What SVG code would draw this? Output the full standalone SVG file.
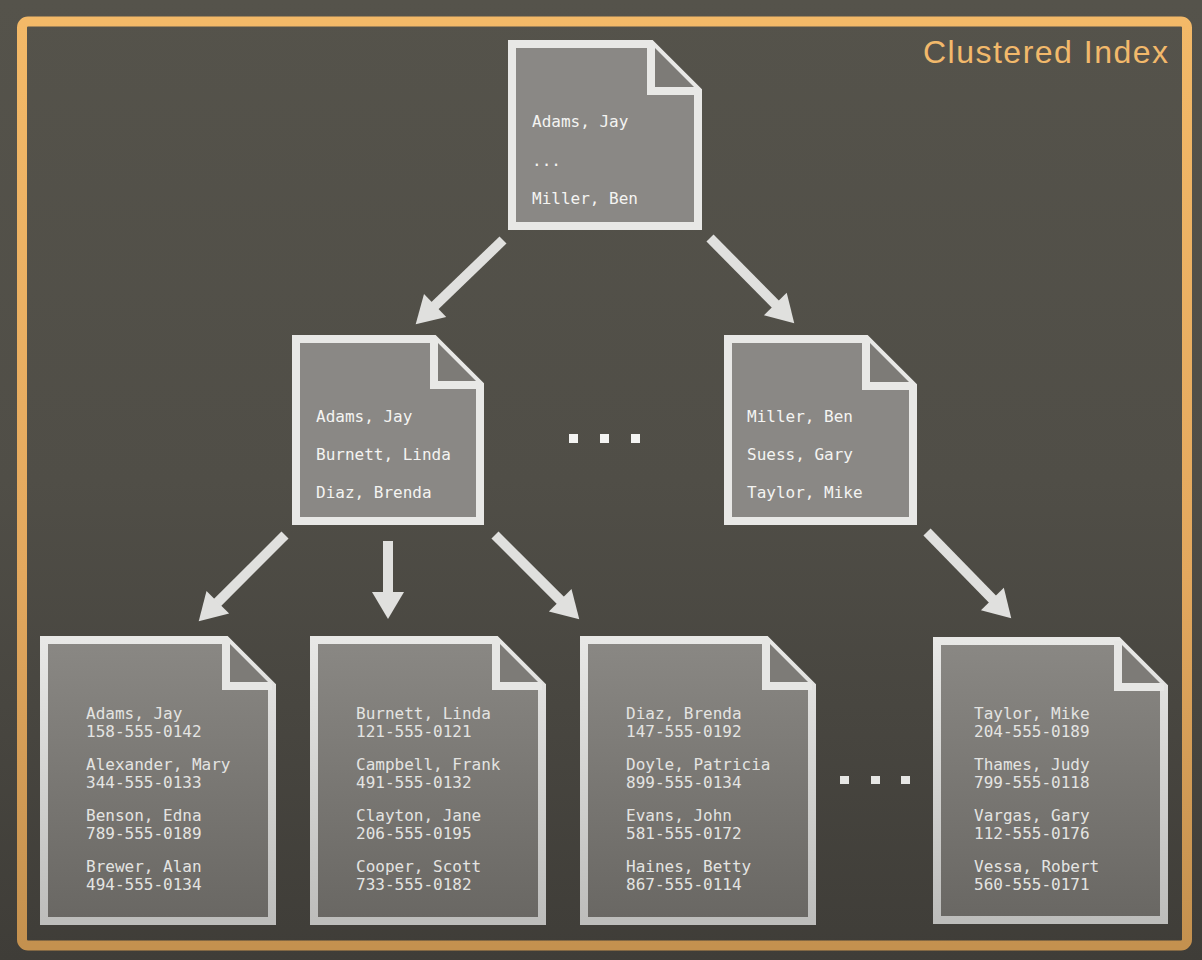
<svg xmlns="http://www.w3.org/2000/svg" width="1202" height="960" viewBox="0 0 1202 960">
<defs>
<linearGradient id="bg" x1="0" y1="0" x2="0" y2="1">
<stop offset="0" stop-color="#55534b"/>
<stop offset="0.5" stop-color="#504e47"/>
<stop offset="1" stop-color="#3f3d38"/>
</linearGradient>
<linearGradient id="frame" x1="0" y1="0" x2="0" y2="1">
<stop offset="0" stop-color="#f3b968"/>
<stop offset="0.6" stop-color="#e3a85e"/>
<stop offset="1" stop-color="#c4914f"/>
</linearGradient>
<linearGradient id="leafFill" x1="0" y1="0" x2="0" y2="1">
<stop offset="0" stop-color="#8a8884"/>
<stop offset="1" stop-color="#696763"/>
</linearGradient>
<linearGradient id="leafStroke" x1="0" y1="0" x2="0" y2="1">
<stop offset="0" stop-color="#e8e8e6"/>
<stop offset="1" stop-color="#bdbdbb"/>
</linearGradient>
<marker id="ah" markerUnits="userSpaceOnUse" markerWidth="28" markerHeight="32" viewBox="0 0 28 32" refX="1" refY="16" orient="auto" overflow="visible">
<path d="M0,0 L27,16 L0,32 Z" fill="#e0e0de"/>
</marker>
</defs>
<style>
.doc{fill:#8a8885;stroke:#e8e8e6;stroke-width:8;stroke-linejoin:miter}
.foldfill{fill:#7d7b77;stroke:none}
.fold{fill:none;stroke:#e8e8e6;stroke-width:8;stroke-linejoin:miter}
.leaf{fill:url(#leafFill);stroke:url(#leafStroke);stroke-width:8}
.lfold{fill:none;stroke:#e6e6e4;stroke-width:8}
.t{font-family:"DejaVu Sans Mono","Liberation Mono",monospace;font-size:16px;fill:#f4f4f2}
.lt{font-family:"DejaVu Sans Mono","Liberation Mono",monospace;font-size:16px;fill:#e4e4e2}
.arr{stroke:#e0e0de;stroke-width:10;fill:none;marker-end:url(#ah)}
.dot{fill:#f4f4f2}
.dot2{fill:#e6e6e4}
</style>
<rect x="0" y="0" width="1202" height="960" fill="url(#bg)"/>
<rect x="22" y="21.5" width="1165" height="924" rx="6" fill="none" stroke="url(#frame)" stroke-width="10"/>
<text x="1168" y="63" text-anchor="end" font-family="'Liberation Sans',Arial,sans-serif" font-size="32" fill="#f2b96b" textLength="245" lengthAdjust="spacing">Clustered Index</text>

<g id="connectors">
<line class="arr" x1="503" y1="240" x2="434.4" y2="306.2"/>
<line class="arr" x1="710" y1="238" x2="776" y2="304.8"/>
<line class="arr" x1="285" y1="535" x2="217.1" y2="602.9"/>
<line class="arr" x1="388" y1="541" x2="388" y2="593"/>
<line class="arr" x1="495" y1="535" x2="560.9" y2="600.9"/>
<line class="arr" x1="927" y1="532" x2="993.1" y2="599.7"/>
</g>

<g id="root">
<path class="doc" d="M512,44 H651 L698,91 V226 H512 Z"/>
<path class="foldfill" d="M651,44 V91 H698 Z"/>
<path class="fold" d="M651,44 V91 H698"/>
<text class="t" x="532" y="127">Adams, Jay</text>
<text class="t" x="532" y="166">...</text>
<text class="t" x="532" y="204">Miller, Ben</text>
</g>

<g id="mid-left">
<path class="doc" d="M296,339 H434 L480,385 V521 H296 Z"/>
<path class="foldfill" d="M434,339 V385 H480 Z"/>
<path class="fold" d="M434,339 V385 H480"/>
<text class="t" x="316" y="422">Adams, Jay</text>
<text class="t" x="316" y="460">Burnett, Linda</text>
<text class="t" x="316" y="498">Diaz, Brenda</text>
</g>

<g id="mid-right">
<path class="doc" d="M728,339 H866 L913,386 V521 H728 Z"/>
<path class="foldfill" d="M866,339 V386 H913 Z"/>
<path class="fold" d="M866,339 V386 H913"/>
<text class="t" x="747" y="422">Miller, Ben</text>
<text class="t" x="747" y="460">Suess, Gary</text>
<text class="t" x="747" y="498">Taylor, Mike</text>
</g>

<g id="mid-dots">
<rect class="dot" x="569" y="434" width="9" height="9"/>
<rect class="dot" x="600" y="434" width="9" height="9"/>
<rect class="dot" x="631" y="434" width="9" height="9"/>
</g>

<g id="leaf1">
<path class="leaf" d="M44,640 H226 L272,686 V921 H44 Z"/>
<path class="foldfill" d="M226,640 V686 H272 Z"/>
<path class="lfold" d="M226,640 V686 H272"/>
<text class="lt" x="86" y="719">Adams, Jay</text>
<text class="lt" x="86" y="737">158-555-0142</text>
<text class="lt" x="86" y="770">Alexander, Mary</text>
<text class="lt" x="86" y="788">344-555-0133</text>
<text class="lt" x="86" y="821">Benson, Edna</text>
<text class="lt" x="86" y="839">789-555-0189</text>
<text class="lt" x="86" y="872">Brewer, Alan</text>
<text class="lt" x="86" y="890">494-555-0134</text>
</g>

<g id="leaf2">
<path class="leaf" d="M314,640 H496 L542,686 V921 H314 Z"/>
<path class="foldfill" d="M496,640 V686 H542 Z"/>
<path class="lfold" d="M496,640 V686 H542"/>
<text class="lt" x="356" y="719">Burnett, Linda</text>
<text class="lt" x="356" y="737">121-555-0121</text>
<text class="lt" x="356" y="770">Campbell, Frank</text>
<text class="lt" x="356" y="788">491-555-0132</text>
<text class="lt" x="356" y="821">Clayton, Jane</text>
<text class="lt" x="356" y="839">206-555-0195</text>
<text class="lt" x="356" y="872">Cooper, Scott</text>
<text class="lt" x="356" y="890">733-555-0182</text>
</g>

<g id="leaf3">
<path class="leaf" d="M584,640 H766 L812,686 V921 H584 Z"/>
<path class="foldfill" d="M766,640 V686 H812 Z"/>
<path class="lfold" d="M766,640 V686 H812"/>
<text class="lt" x="626" y="719">Diaz, Brenda</text>
<text class="lt" x="626" y="737">147-555-0192</text>
<text class="lt" x="626" y="770">Doyle, Patricia</text>
<text class="lt" x="626" y="788">899-555-0134</text>
<text class="lt" x="626" y="821">Evans, John</text>
<text class="lt" x="626" y="839">581-555-0172</text>
<text class="lt" x="626" y="872">Haines, Betty</text>
<text class="lt" x="626" y="890">867-555-0114</text>
</g>

<g id="leaf-dots">
<rect class="dot2" x="840" y="776" width="9" height="8"/>
<rect class="dot2" x="871" y="776" width="9" height="8"/>
<rect class="dot2" x="901" y="776" width="9" height="8"/>
</g>

<g id="leaf4">
<path class="leaf" d="M937,641 H1118 L1164,687 V920 H937 Z"/>
<path class="foldfill" d="M1118,641 V687 H1164 Z"/>
<path class="lfold" d="M1118,641 V687 H1164"/>
<text class="lt" x="974" y="719">Taylor, Mike</text>
<text class="lt" x="974" y="737">204-555-0189</text>
<text class="lt" x="974" y="770">Thames, Judy</text>
<text class="lt" x="974" y="788">799-555-0118</text>
<text class="lt" x="974" y="821">Vargas, Gary</text>
<text class="lt" x="974" y="839">112-555-0176</text>
<text class="lt" x="974" y="872">Vessa, Robert</text>
<text class="lt" x="974" y="890">560-555-0171</text>
</g>
</svg>
